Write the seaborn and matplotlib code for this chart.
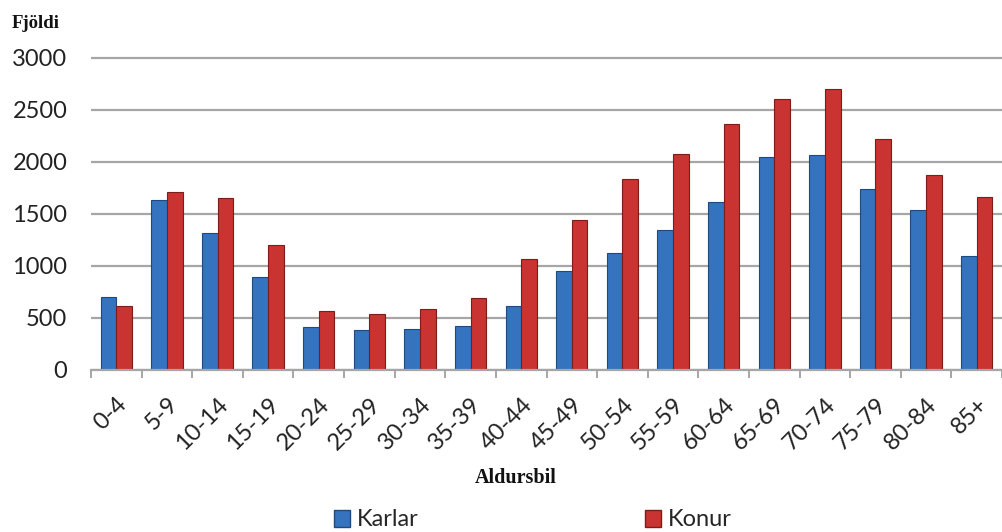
import numpy as np
import pandas as pd
import matplotlib
matplotlib.use("Agg")
import matplotlib.pyplot as plt
import seaborn as sns
from matplotlib.patches import Patch

# ---- data ----
age_groups = ["0-4", "5-9", "10-14", "15-19", "20-24", "25-29", "30-34", "35-39",
              "40-44", "45-49", "50-54", "55-59", "60-64", "65-69", "70-74",
              "75-79", "80-84", "85+"]
karlar = [705, 1635, 1314, 897, 416, 388, 397, 426, 618, 955, 1125, 1346,
          1612, 2045, 2064, 1737, 1535, 1096]
konur = [618, 1709, 1654, 1205, 570, 542, 590, 695, 1070, 1442, 1837, 2074,
         2362, 2603, 2699, 2218, 1875, 1666]
series_names = ["Karlar", "Konur"]
y_ticks = [0, 500, 1000, 1500, 2000, 2500, 3000]
y_label = "Fjöldi"
x_label = "Aldursbil"

df = pd.DataFrame({
    "Aldursbil": age_groups * 2,
    "Fjöldi": karlar + konur,
    "Kyn": [series_names[0]] * len(age_groups) + [series_names[1]] * len(age_groups),
})

sns.set_theme(style="white")
plt.rcParams["font.family"] = ["Lato", "DejaVu Sans"]

W, H = 1002, 532
fig = plt.figure(figsize=(W / 100, H / 100), dpi=100)
y0_px, y3000_px = 370, 58
ymax = 3040
top_px = y0_px - (y0_px - y3000_px) * ymax / 3000
ax = fig.add_axes([91 / W, 1 - y0_px / H, 911 / W, (y0_px - top_px) / H])

face = {"Karlar": "#3573BF", "Konur": "#C93331"}
edge = {"Karlar": "#1F4A80", "Konur": "#7E1C1A"}

sns.barplot(data=df, x="Aldursbil", y="Fjöldi", hue="Kyn", palette=face,
            width=0.62, ax=ax, legend=False, saturation=1)

for cont, name in zip(ax.containers, series_names):
    for bar in cont:
        bar.set_edgecolor(edge[name])
        bar.set_linewidth(0.8)

ax.set_xlim(-0.5, len(age_groups) - 0.5)
ax.set_ylim(0, ymax)
ax.set_yticks(y_ticks)
ax.yaxis.grid(True, color="#A6A6A6", linewidth=1.6)
ax.set_axisbelow(True)
for s in ["top", "right", "left"]:
    ax.spines[s].set_visible(False)
ax.spines["bottom"].set_color("#A6A6A6")
ax.spines["bottom"].set_linewidth(1.6)

ax.set_xticks(np.arange(-0.5, len(age_groups), 1), minor=True)
ax.tick_params(axis="x", which="minor", length=6, width=1.4, color="#A6A6A6", bottom=True)
ax.tick_params(axis="x", which="major", length=0, pad=17)
ax.tick_params(axis="y", length=0, pad=17, labelsize=17, labelcolor="#222222")
ax.set_xticks(range(len(age_groups)))
ax.set_xticklabels(age_groups, rotation=45, ha="right", rotation_mode="anchor",
                   fontsize=17, color="#222222")
ax.set_xlabel("")
ax.set_ylabel("")

fig.text(12 / W, 1 - 24 / H, y_label, fontsize=13.5, fontweight="bold",
         family="Liberation Serif", va="center", ha="left", color="#111111")
fig.text(516 / W, 1 - 478 / H, x_label, fontsize=14.5, fontweight="bold",
         family="Liberation Serif", va="center", ha="center", color="#111111")

handles = [Patch(facecolor=face[n], edgecolor=edge[n], label=n) for n in series_names]
fig.legend(handles=handles, loc="center", bbox_to_anchor=(533 / W, 1 - 520 / H),
           ncol=2, frameon=False, fontsize=17, handlelength=0.65, handleheight=0.75,
           handletextpad=0.3, columnspacing=9.6, borderaxespad=0)

fig.savefig("out.png", dpi=100)
